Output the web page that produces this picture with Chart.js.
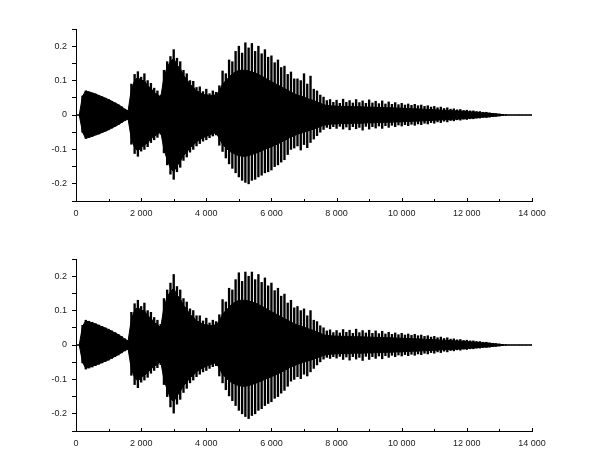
<!DOCTYPE html>
<html>
<head>
<meta charset="utf-8">
<script src="https://cdn.jsdelivr.net/npm/chart.js@4/dist/chart.umd.min.js"></script>
<style>
  html, body { margin: 0; padding: 0; background: #fff; }
  .plot { position: absolute; left: 0; width: 610px; height: 230px; }
</style>
</head>
<body>
<div class="plot" style="top:0"><canvas id="plotTop" width="610" height="230"></canvas></div>
<div class="plot" style="top:230px"><canvas id="plotBottom" width="610" height="230"></canvas></div>
<script>
// Waveform, one reading every 100 samples (0 .. 14 000).
const STEP = 100;

// dense core of the signal (shared by both plots)
const coreHi = [
  0, 0, 0.055, 0.07, 0.067, 0.064, 0.061, 0.057, 0.053, 0.049,
  0.045, 0.04, 0.035, 0.03, 0.024, 0.017, 0.012, 0.075, 0.1, 0.11,
  0.1, 0.1, 0.085, 0.078, 0.065, 0.06, 0.05, 0.11, 0.14, 0.155,
  0.165, 0.145, 0.135, 0.115, 0.105, 0.088, 0.082, 0.068, 0.068, 0.058,
  0.06, 0.055, 0.058, 0.058, 0.07, 0.09, 0.1, 0.11, 0.12, 0.125,
  0.13, 0.13, 0.13, 0.128, 0.125, 0.122, 0.118, 0.113, 0.108, 0.102,
  0.097, 0.092, 0.087, 0.082, 0.077, 0.072, 0.067, 0.062, 0.058, 0.055,
  0.052, 0.048, 0.045, 0.042, 0.038, 0.034, 0.03, 0.028, 0.027, 0.026,
  0.026, 0.025, 0.025, 0.025, 0.025, 0.024, 0.024, 0.024, 0.024, 0.023,
  0.023, 0.023, 0.022, 0.022, 0.022, 0.021, 0.021, 0.021, 0.02, 0.02,
  0.02, 0.019, 0.019, 0.018, 0.018, 0.018, 0.017, 0.017, 0.016, 0.016,
  0.015, 0.015, 0.014, 0.014, 0.013, 0.013, 0.012, 0.012, 0.011, 0.011,
  0.01, 0.009, 0.009, 0.008, 0.007, 0.006, 0.006, 0.005, 0.004, 0.003,
  0.002, 0.001, 0, 0, 0, 0, 0, 0, 0, 0, 0
];
const coreLo = [
  0, 0, -0.05, -0.068, -0.065, -0.062, -0.058, -0.055, -0.051, -0.047,
  -0.043, -0.038, -0.033, -0.028, -0.022, -0.016, -0.012, -0.07, -0.095, -0.105,
  -0.095, -0.088, -0.08, -0.07, -0.062, -0.056, -0.048, -0.1, -0.13, -0.155,
  -0.165, -0.148, -0.135, -0.118, -0.108, -0.095, -0.088, -0.078, -0.072, -0.066,
  -0.062, -0.058, -0.054, -0.052, -0.068, -0.085, -0.095, -0.105, -0.11, -0.115,
  -0.118, -0.12, -0.12, -0.118, -0.115, -0.112, -0.108, -0.104, -0.1, -0.096,
  -0.092, -0.088, -0.084, -0.079, -0.074, -0.069, -0.064, -0.06, -0.056, -0.053,
  -0.05, -0.047, -0.044, -0.041, -0.037, -0.034, -0.03, -0.028, -0.027, -0.026,
  -0.026, -0.025, -0.025, -0.025, -0.025, -0.024, -0.024, -0.024, -0.024, -0.023,
  -0.023, -0.023, -0.022, -0.022, -0.022, -0.021, -0.021, -0.021, -0.02, -0.02,
  -0.02, -0.019, -0.019, -0.018, -0.018, -0.018, -0.017, -0.017, -0.016, -0.016,
  -0.015, -0.015, -0.014, -0.014, -0.013, -0.013, -0.012, -0.012, -0.011, -0.011,
  -0.01, -0.009, -0.009, -0.008, -0.007, -0.006, -0.006, -0.005, -0.004, -0.003,
  -0.002, -0.001, 0, 0, 0, 0, 0, 0, 0, 0, 0
];

// spike tips, upper plot
const topHi = [
  0, 0, 0.055, 0.07, 0.067, 0.064, 0.061, 0.057, 0.053, 0.049,
  0.045, 0.04, 0.035, 0.03, 0.024, 0.017, 0.012, 0.09, 0.118, 0.126,
  0.11, 0.12, 0.1, 0.092, 0.078, 0.07, 0.058, 0.13, 0.155, 0.17,
  0.19, 0.165, 0.155, 0.13, 0.12, 0.1, 0.098, 0.08, 0.082, 0.068,
  0.075, 0.062, 0.07, 0.066, 0.085, 0.128, 0.12, 0.16, 0.155, 0.185,
  0.2, 0.18, 0.21, 0.195, 0.208, 0.185, 0.2, 0.178, 0.19, 0.168,
  0.172, 0.152, 0.16, 0.138, 0.142, 0.118, 0.125, 0.105, 0.105, 0.1,
  0.12, 0.09, 0.113, 0.075, 0.07, 0.058, 0.052, 0.042, 0.045, 0.037,
  0.043, 0.034, 0.046, 0.037, 0.042, 0.035, 0.045, 0.036, 0.041, 0.034,
  0.044, 0.035, 0.04, 0.033, 0.041, 0.032, 0.038, 0.031, 0.036, 0.03,
  0.034, 0.029, 0.032, 0.028, 0.031, 0.027, 0.029, 0.025, 0.027, 0.023,
  0.025, 0.021, 0.023, 0.019, 0.021, 0.017, 0.018, 0.015, 0.016, 0.013,
  0.014, 0.012, 0.012, 0.01, 0.01, 0.008, 0.008, 0.006, 0.005, 0.004,
  0.003, 0.002, 0.001, 0, 0, 0, 0, 0, 0, 0, 0
];
const topLo = [
  0, 0, -0.05, -0.068, -0.065, -0.062, -0.058, -0.055, -0.051, -0.047,
  -0.043, -0.038, -0.033, -0.028, -0.022, -0.016, -0.012, -0.085, -0.112, -0.12,
  -0.105, -0.1, -0.092, -0.08, -0.072, -0.065, -0.056, -0.11, -0.145, -0.172,
  -0.187, -0.165, -0.152, -0.132, -0.122, -0.108, -0.1, -0.09, -0.083, -0.076,
  -0.072, -0.066, -0.061, -0.058, -0.088, -0.106, -0.125, -0.142, -0.155, -0.168,
  -0.18, -0.19, -0.196, -0.2, -0.19, -0.187, -0.18, -0.175, -0.168, -0.165,
  -0.16, -0.15, -0.145, -0.137, -0.13, -0.115, -0.1, -0.096, -0.09, -0.102,
  -0.086, -0.095, -0.08, -0.07, -0.06, -0.05, -0.042, -0.036, -0.04, -0.034,
  -0.039, -0.033, -0.041, -0.035, -0.043, -0.034, -0.04, -0.036, -0.044, -0.033,
  -0.041, -0.034, -0.038, -0.032, -0.039, -0.031, -0.036, -0.03, -0.034, -0.029,
  -0.032, -0.028, -0.031, -0.027, -0.03, -0.026, -0.028, -0.024, -0.026, -0.022,
  -0.024, -0.02, -0.022, -0.018, -0.02, -0.016, -0.017, -0.014, -0.015, -0.012,
  -0.013, -0.011, -0.011, -0.009, -0.009, -0.007, -0.007, -0.006, -0.005, -0.004,
  -0.003, -0.002, -0.001, 0, 0, 0, 0, 0, 0, 0, 0
];

// spike tips, lower plot
const botHi = [
  0, 0, 0.057, 0.072, 0.069, 0.066, 0.062, 0.058, 0.054, 0.05,
  0.046, 0.041, 0.036, 0.031, 0.025, 0.018, 0.013, 0.095, 0.12, 0.13,
  0.112, 0.122, 0.1, 0.095, 0.08, 0.072, 0.06, 0.135, 0.16, 0.18,
  0.205, 0.17, 0.16, 0.135, 0.125, 0.105, 0.1, 0.085, 0.085, 0.07,
  0.078, 0.064, 0.072, 0.068, 0.088, 0.132, 0.125, 0.165, 0.16, 0.19,
  0.21, 0.185, 0.212, 0.2, 0.212, 0.19, 0.205, 0.182, 0.195, 0.172,
  0.18, 0.158, 0.165, 0.142, 0.148, 0.122, 0.13, 0.108, 0.112, 0.1,
  0.105, 0.085, 0.1, 0.072, 0.068, 0.056, 0.05, 0.041, 0.044, 0.036,
  0.042, 0.035, 0.045, 0.037, 0.043, 0.034, 0.046, 0.036, 0.042, 0.035,
  0.043, 0.034, 0.041, 0.033, 0.04, 0.032, 0.037, 0.031, 0.035, 0.03,
  0.034, 0.029, 0.032, 0.028, 0.031, 0.027, 0.029, 0.025, 0.027, 0.023,
  0.025, 0.021, 0.023, 0.019, 0.021, 0.017, 0.018, 0.015, 0.016, 0.013,
  0.014, 0.012, 0.012, 0.01, 0.01, 0.008, 0.008, 0.006, 0.005, 0.004,
  0.003, 0.002, 0.001, 0, 0, 0, 0, 0, 0, 0, 0
];
const botLo = [
  0, 0, -0.052, -0.07, -0.067, -0.064, -0.06, -0.056, -0.052, -0.048,
  -0.044, -0.039, -0.034, -0.029, -0.023, -0.017, -0.012, -0.088, -0.115, -0.124,
  -0.108, -0.102, -0.094, -0.082, -0.074, -0.066, -0.057, -0.115, -0.15, -0.18,
  -0.198, -0.172, -0.158, -0.138, -0.126, -0.11, -0.102, -0.092, -0.085, -0.078,
  -0.074, -0.068, -0.063, -0.06, -0.09, -0.11, -0.13, -0.148, -0.162, -0.176,
  -0.19, -0.2, -0.208, -0.214, -0.205, -0.2, -0.19, -0.185, -0.176, -0.17,
  -0.165, -0.155, -0.15, -0.14, -0.132, -0.12, -0.105, -0.1, -0.092, -0.098,
  -0.085, -0.09, -0.078, -0.068, -0.058, -0.049, -0.041, -0.036, -0.039, -0.034,
  -0.038, -0.033, -0.042, -0.035, -0.044, -0.034, -0.041, -0.036, -0.045, -0.033,
  -0.042, -0.034, -0.039, -0.032, -0.04, -0.031, -0.036, -0.03, -0.034, -0.029,
  -0.032, -0.028, -0.031, -0.027, -0.03, -0.026, -0.028, -0.024, -0.026, -0.022,
  -0.024, -0.02, -0.022, -0.018, -0.02, -0.016, -0.017, -0.014, -0.015, -0.012,
  -0.013, -0.011, -0.011, -0.009, -0.009, -0.007, -0.007, -0.006, -0.005, -0.004,
  -0.003, -0.002, -0.001, 0, 0, 0, 0, 0, 0, 0, 0
];

const xMax = 14000;
const xTickStep = 1000;      // tick marks every 1000, labels every 2000
const yRange = [-0.25, 0.25];
const yTickStep = 0.05;      // tick marks every 0.05, labels every 0.1

const FONT = { family: '"Liberation Sans", Arial, sans-serif', size: 9 };
const TEXT = '#222';

// x-axis ticks point up into the plot, as in the original
const innerXTicks = {
  id: 'innerXTicks',
  afterDraw(chart) {
    const sx = chart.scales.x;
    const bottom = chart.chartArea.bottom;
    const ctx = chart.ctx;
    ctx.save();
    ctx.strokeStyle = '#000';
    ctx.lineWidth = 1;
    sx.ticks.forEach(t => {
      const px = Math.round(sx.getPixelForValue(t.value)) + 0.5;
      ctx.beginPath();
      ctx.moveTo(px, bottom);
      ctx.lineTo(px, bottom - (t.value % 2000 === 0 ? 3 : 2));
      ctx.stroke();
    });
    ctx.restore();
  }
};

function fmtThousands(v) {
  return String(v).replace(/\B(?=(\d{3})+(?!\d))/g, ' ');
}

function makePlot(canvasId, hi, lo) {
  const corePts = arr => arr.map((v, i) => ({ x: i * STEP, y: v }));
  const spikes = hi.map((v, i) => ({ x: i * STEP, y: [lo[i], v] }));

  return new Chart(document.getElementById(canvasId), {
    type: 'bar',
    data: {
      datasets: [
        {
          type: 'line',
          data: corePts(coreHi),
          borderColor: '#000',
          borderWidth: 1,
          backgroundColor: '#000',
          fill: '+1',
          pointRadius: 0,
          tension: 0,
        },
        {
          type: 'line',
          data: corePts(coreLo),
          borderColor: '#000',
          borderWidth: 1,
          fill: false,
          pointRadius: 0,
          tension: 0,
        },
        {
          type: 'bar',
          data: spikes,
          backgroundColor: '#000',
          borderWidth: 0,
          barThickness: 1.7,
          grouped: false,
        },
      ],
    },
    options: {
      responsive: false,
      animation: false,
      events: [],
      devicePixelRatio: 1,
      layout: { padding: { left: 36, right: 78, top: 29, bottom: 0 } },
      plugins: { legend: { display: false }, tooltip: { enabled: false } },
      scales: {
        x: {
          type: 'linear',
          min: 0,
          max: xMax,
          offset: false,
          afterFit: s => { s.height = 29; },
          grid: { display: true, drawOnChartArea: false, drawTicks: false, color: '#000', offset: false },
          border: { display: true, color: '#000', width: 1 },
          ticks: {
            stepSize: xTickStep,
            autoSkip: false,
            maxRotation: 0,
            padding: 7,
            color: TEXT,
            font: FONT,
            callback: v => (v % 2000 === 0 ? fmtThousands(v) : ''),
          },
        },
        y: {
          min: yRange[0],
          max: yRange[1],
          afterFit: s => { s.width = 40; },
          grid: { display: true, drawOnChartArea: false, drawTicks: true, tickLength: 4, color: '#000' },
          border: { display: true, color: '#000', width: 1 },
          ticks: {
            stepSize: yTickStep,
            autoSkip: false,
            padding: 5,
            color: TEXT,
            font: FONT,
            callback: v => {
              const k = Math.round(v / yTickStep);
              if (k % 2 !== 0) return '';
              return k === 0 ? '0' : String(k * yTickStep / 1).replace(/(\.\d)\d+$/, '$1');
            },
          },
        },
      },
    },
    plugins: [innerXTicks],
  });
}

makePlot('plotTop', topHi, topLo);
makePlot('plotBottom', botHi, botLo);
</script>
</body>
</html>
